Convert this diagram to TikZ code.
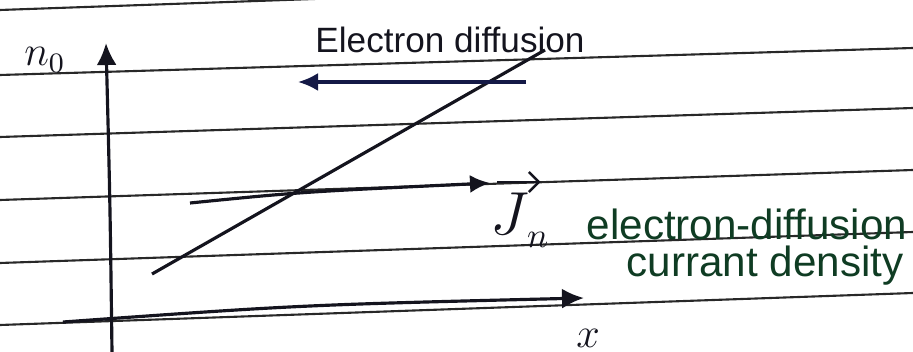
\documentclass[tikz,border=0pt]{standalone}
\usepackage{fontspec}
\setmainfont{Liberation Sans}
\usepackage{tikz}
\usetikzlibrary{positioning,arrows.meta}
\definecolor{sketchink}{RGB}{20,20,30}
\definecolor{sketchblue}{RGB}{20,25,70}
\definecolor{sketchgreen}{RGB}{15,60,35}
\definecolor{sketchrule}{RGB}{40,40,40}

\begin{document}
\begin{tikzpicture}[
  x=0.01cm,y=-0.01cm,
  every node/.style={font=\normalsize,text=sketchink},
  rule/.style={line width=0.6pt,draw=sketchrule},
  axis/.style={-{Latex[length=2.2mm,width=2mm]},line width=0.9pt,draw=sketchink},
  flow/.style={-{Latex[length=2mm,width=1.8mm]},line width=0.9pt,draw=sketchink},
  note/.style={font=\large,text=sketchgreen,inner sep=1pt}
]
\useasboundingbox (0,0) rectangle (913,352);
% ruled paper
\begin{scope}
\clip (0,0) rectangle (913,352);
\draw[rule] (0,10) -- (913,-22);
\draw[rule] (0,75) -- (913,48);
\draw[rule] (0,137) -- (913,108);
\draw[rule] (0,200) -- (913,170);
\draw[rule] (0,263) -- (913,232);
\draw[rule] (0,325) -- (913,293);
\end{scope}

% axes
\coordinate (origin) at (112,352);
\coordinate (ntop) at (106,43);
\coordinate (xstart) at (63,322);
\coordinate (xend) at (584,298);
\draw[axis] (origin) .. controls (110,200) .. (ntop);
\draw[axis] (xstart) .. controls (300,305) .. (xend);
\node (nlabel) at (45,60) {\large$n_0$};
\node (xlabel) at (588,338) {\large$x$};

% concentration profile
\coordinate (low) at (152,274);
\coordinate (high) at (545,50);
\draw[line width=0.9pt,draw=sketchink] (low) -- (high);

% electron diffusion
\coordinate (dstart) at (526,82);
\coordinate (dend) at (298,82);
\draw[flow,draw=sketchblue] (dstart) -- (dend);
\node (dlabel) at (450,40) {Electron diffusion};

% current density
\coordinate (jstart) at (190,203);
\coordinate (jend) at (490,183);
\draw[flow] (jstart) .. controls (300,192) .. (jend);
\node[inner sep=0pt] (jlabel) at (510,214) {\LARGE$J$};
\node[inner sep=0pt,anchor=north west] (jsub) at ([xshift=-1pt,yshift=1pt]jlabel.south east) {$n$};
\draw[-{Straight Barb[length=1mm]},line width=0.7pt,draw=sketchink]
  ([yshift=3pt,xshift=2pt]jlabel.north west) -- ([yshift=3pt,xshift=3pt]jlabel.north east);
\node[note] (jnote) at (747,224) {electron-diffusion};
\node[note] (jnote2) at (765,266) {currant density};
\end{tikzpicture}
\end{document}
